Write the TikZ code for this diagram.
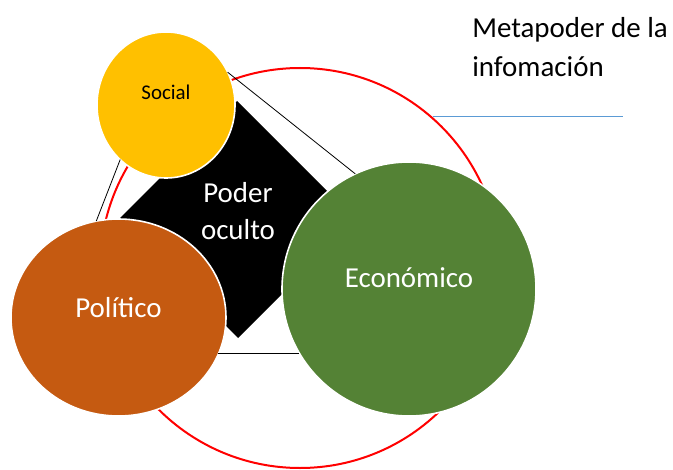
\documentclass[tikz,border=0pt]{standalone}
\usepackage{fontspec}
\setmainfont{Carlito}
\usetikzlibrary{shapes.geometric}

\definecolor{socialyellow}{HTML}{FFC000}
\definecolor{politicorange}{HTML}{C55A11}
\definecolor{economicgreen}{HTML}{548235}
\definecolor{lineblue}{HTML}{5B9BD5}

\begin{document}
\begin{tikzpicture}[x = 0.75pt, y = -0.75pt,
	bubble/.style = {ellipse, draw = white, line width = 1.2pt, inner sep = 0pt, outer sep = 0pt},
	big/.style = {font = \fontsize{21.7}{27.75}\selectfont, inner sep = 0pt}]

	\useasboundingbox (0, 0) rectangle (673, 470);

	% Outer circle
	
	\draw [red, line width = 1.5pt] (300, 268) circle [radius = 150pt];

	% Hidden power
	
	\fill [black] (237, 101) -- (356, 220) -- (238, 338) -- (120, 218) -- cycle;
	\node [big, white, align = center] (poder) at (238, 211.5) {Poder\\oculto};

	% Spheres
	
	\node [bubble, fill = socialyellow, minimum width = 103.5pt, minimum height = 109.5pt] (social) at (166, 105) {};
	\node [bubble, fill = politicorange, minimum width = 161.25pt, minimum height = 147.75pt] (politico) at (118.5, 317.5) {};
	\node [bubble, fill = economicgreen, minimum size = 190.5pt] (economico) at (409, 289) {};

	\node [font = \fontsize{15.7}{19}\selectfont, inner sep = 0pt] (social-label) at ([yshift = 9.75pt] social.center) {Social};
	\node [big, white] (politico-label) at ([yshift = 7.1pt] politico.center) {Político};
	\node [big, white] (economico-label) at ([yshift = 8.25pt] economico.center) {Económico};

	% Links
	
	\begin{scope}[line width = 0.6pt]
	
		\draw (social.28) -- (economico.115);
		\draw (social.230) -- (politico.103);
		\draw (politico.-20) -- (politico.-20 -| economico.210);
		
	\end{scope}

	% Title
	
	\node [big, anchor = north west, align = left, font = \fontsize{21.7}{29.25}\selectfont] (metapoder) at (472, 16.7) {Metapoder de la\\infomación};
	\draw [lineblue, line width = 0.75pt] (433, 117) -- (623, 117);

\end{tikzpicture}
\end{document}
